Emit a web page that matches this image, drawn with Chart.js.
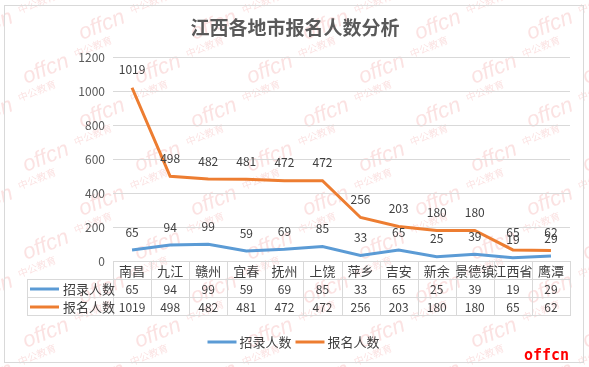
<!DOCTYPE html>
<html>
<head>
<meta charset="utf-8">
<script src="https://cdn.jsdelivr.net/npm/chart.js@4.4.1/dist/chart.umd.min.js"></script>
<style>
  html, body { margin: 0; padding: 0; background: #fff; }
  #wrap { width: 589px; height: 367px; }
</style>
</head>
<body>
<div id="wrap"><canvas id="c" width="589" height="367"></canvas></div>
<script>
const categories = ['南昌', '九江', '赣州', '宜春', '抚州', '上饶', '萍乡', '吉安', '新余', '景德镇', '江西省', '鹰潭'];
const hired = [65, 94, 99, 59, 69, 85, 33, 65, 25, 39, 19, 29];
const applied = [1019, 498, 482, 481, 472, 472, 256, 203, 180, 180, 65, 62];
const seriesNames = ['招录人数', '报名人数'];
const seriesColors = ['#5B9BD5', '#ED7D31'];
const yMin = 0, yMax = 1200, yStep = 200;
const titleText = '江西各地市报名人数分析';

const CJK = '"Noto Sans CJK SC", "Noto Sans", sans-serif';
const textColor = '#404040';
const lineColor = '#d9d9d9';

// faint watermark behind everything
const watermark = {
    id: 'watermark',
    beforeDraw(chart) {
        const ctx = chart.ctx;
        ctx.save();
        ctx.fillStyle = '#fff';
        ctx.fillRect(0, 0, chart.width, chart.height);
        ctx.fillStyle = 'rgba(240, 150, 150, 0.28)';
        for (let r = 0; r < 9; r++) {
            for (let k = 0; k < 7; k++) {
                const x = -30 + (r % 2) * 56 + k * 112;
                const y = 40 + r * 44;
                ctx.save();
                ctx.translate(x, y);
                ctx.rotate(-0.38);
                ctx.font = 'italic 22px "Liberation Sans", sans-serif';
                ctx.fillText('offcn', 0, 0);
                ctx.font = '10px ' + CJK;
                ctx.fillText('中公教育', 56, -6);
                ctx.restore();
            }
        }
        ctx.restore();
    }
};

// value labels above the points
const valueLabels = {
    id: 'valueLabels',
    afterDatasetsDraw(chart) {
        const ctx = chart.ctx;
        ctx.save();
        ctx.font = '12px ' + CJK;
        ctx.fillStyle = textColor;
        ctx.textAlign = 'center';
        ctx.textBaseline = 'middle';
        chart.data.datasets.forEach((ds, i) => {
            chart.getDatasetMeta(i).data.forEach((pt, j) => {
                ctx.fillText(ds.data[j], pt.x, pt.y - 18);
            });
        });
        ctx.restore();
    }
};

// data table, legend, title, border
const extras = {
    id: 'extras',
    afterDraw(chart) {
        const ctx = chart.ctx;
        const area = chart.chartArea;
        const n = categories.length;
        const colW = (area.right - area.left) / n;
        const top = area.bottom;
        const rowH = 18;
        const keyLeft = 27;
        ctx.save();

        // grid of table
        ctx.strokeStyle = lineColor;
        ctx.lineWidth = 1;
        ctx.beginPath();
        for (let i = 0; i <= n; i++) {
            const x = Math.round(area.left + i * colW) + 0.5;
            ctx.moveTo(x, top);
            ctx.lineTo(x, top + rowH * 3);
        }
        ctx.moveTo(keyLeft + 0.5, top + rowH);
        ctx.lineTo(keyLeft + 0.5, top + rowH * 3);
        for (let r = 1; r <= 3; r++) {
            const y = Math.round(top + r * rowH) + 0.5;
            ctx.moveTo(keyLeft, y);
            ctx.lineTo(area.right + 1, y);
        }
        ctx.stroke();

        ctx.textAlign = 'center';
        ctx.textBaseline = 'middle';
        ctx.fillStyle = textColor;
        ctx.font = '13px ' + CJK;
        categories.forEach((c, i) => {
            ctx.fillText(c, area.left + (i + 0.5) * colW, top + rowH / 2 + 1);
        });
        ctx.font = '12px ' + CJK;
        chart.data.datasets.forEach((ds, s) => {
            const cy = top + rowH * (s + 1.5) + 1;
            ds.data.forEach((v, i) => {
                ctx.fillText(v, area.left + (i + 0.5) * colW, cy);
            });
            ctx.strokeStyle = ds.borderColor;
            ctx.lineWidth = 3;
            ctx.beginPath();
            ctx.moveTo(30, cy);
            ctx.lineTo(59, cy);
            ctx.stroke();
            ctx.textAlign = 'left';
            ctx.font = '13px ' + CJK;
            ctx.fillText(ds.label, 63, cy);
            ctx.textAlign = 'center';
            ctx.font = '12px ' + CJK;
        });

        // bottom legend
        ctx.font = '13px ' + CJK;
        const items = chart.data.datasets.map(ds => ({ label: ds.label, color: ds.borderColor, w: 32 + ctx.measureText(ds.label).width }));
        const gap = 4;
        const total = items.reduce((a, it) => a + it.w, 0) + gap * (items.length - 1);
        let lx = 293.5 - total / 2;
        const ly = 342;
        ctx.textAlign = 'left';
        items.forEach(it => {
            ctx.strokeStyle = it.color;
            ctx.lineWidth = 3;
            ctx.beginPath();
            ctx.moveTo(lx, ly);
            ctx.lineTo(lx + 29, ly);
            ctx.stroke();
            ctx.fillStyle = textColor;
            ctx.fillText(it.label, lx + 32, ly);
            lx += it.w + gap;
        });

        // title
        ctx.textAlign = 'center';
        ctx.fillStyle = '#595959';
        ctx.font = 'bold 19px ' + CJK;
        ctx.fillText(titleText, 295, 28);

        // corner mark
        ctx.textAlign = 'left';
        ctx.fillStyle = '#ff0000';
        ctx.font = 'bold 15px "DejaVu Sans Mono", monospace';
        ctx.fillText('offcn', 524, 356);

        // outer border
        ctx.strokeStyle = lineColor;
        ctx.lineWidth = 1;
        ctx.strokeRect(4.5, 5.5, 579, 357);
        ctx.restore();
    }
};

new Chart(document.getElementById('c'), {
    type: 'line',
    data: {
        labels: categories,
        datasets: [
            { label: seriesNames[0], data: hired, borderColor: seriesColors[0], backgroundColor: seriesColors[0], borderWidth: 3, pointRadius: 0, tension: 0 },
            { label: seriesNames[1], data: applied, borderColor: seriesColors[1], backgroundColor: seriesColors[1], borderWidth: 3, pointRadius: 0, tension: 0 }
        ]
    },
    options: {
        responsive: false,
        animation: false,
        layout: { padding: { left: 8, right: 19, top: 57, bottom: 0 } },
        plugins: {
            legend: { display: false },
            title: { display: false },
            tooltip: { enabled: false }
        },
        scales: {
            x: {
                offset: true,
                grid: { display: false },
                border: { display: false },
                ticks: { display: false },
                afterFit(scale) { scale.height = 106; }
            },
            y: {
                min: yMin,
                max: yMax,
                grid: { color: lineColor, drawTicks: false },
                border: { display: false },
                ticks: {
                    stepSize: yStep,
                    padding: 8,
                    color: '#595959',
                    font: { size: 12, family: CJK },
                    callback: v => String(v)
                },
                afterFit(scale) { scale.width = 105; }
            }
        }
    },
    plugins: [watermark, valueLabels, extras]
});
</script>
</body>
</html>
